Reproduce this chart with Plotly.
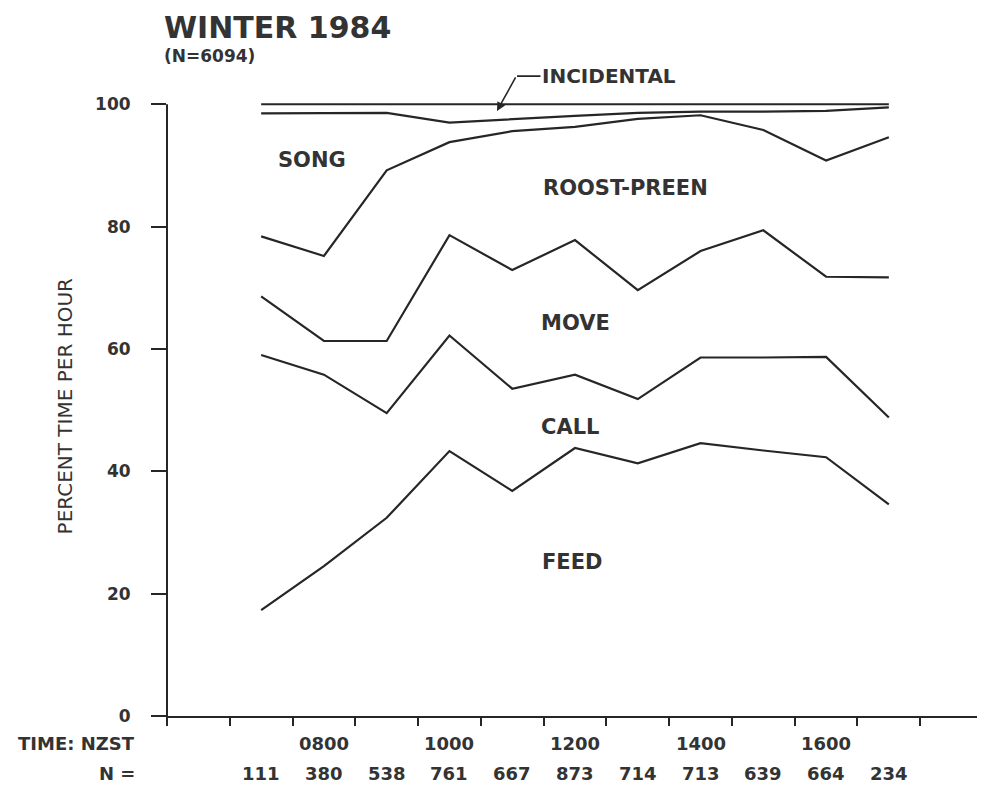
import plotly.graph_objects as go

# ---- data ----
hours = [7, 8, 9, 10, 11, 12, 13, 14, 15, 16, 17]          # hour blocks (0700 ... 1700)
n_counts = [111, 380, 538, 761, 667, 873, 714, 713, 639, 664, 234]

# cumulative boundaries (percent time per hour)
feed = [17.3, 24.5, 32.4, 43.3, 36.8, 43.8, 41.3, 44.6, 43.4, 42.3, 34.6]
call = [59.0, 55.8, 49.5, 62.2, 53.5, 55.8, 51.8, 58.6, 58.6, 58.7, 48.8]
move = [68.6, 61.3, 61.3, 78.6, 72.9, 77.8, 69.6, 76.0, 79.4, 71.8, 71.7]
roost_preen = [78.4, 75.2, 89.2, 93.8, 95.6, 96.3, 97.6, 98.2, 95.8, 90.8, 94.6]
song = [98.5, 98.6, 98.6, 97.0, 97.6, 98.1, 98.6, 98.8, 98.8, 98.9, 99.5]
incidental = [100, 100, 100, 100, 100, 100, 100, 100, 100, 100, 100]

hour_labels = ["0800", "1000", "1200", "1400", "1600"]
y_ticks = [0, 20, 40, 60, 80, 100]
x_ticks = list(range(6, 20))

band_labels = ["SONG", "ROOST-PREEN", "MOVE", "CALL", "FEED"]
band_label_x = [8.31, 13.31, 12.50, 12.42, 12.45]
band_label_y = [90.9, 86.3, 64.2, 47.2, 25.2]

# ---- figure ----
xpos = [h + 0.5 for h in hours]
LINE = "#262626"
TXT = "#333333"
FONT = "DejaVu Sans"
ymax = 102

fig = go.Figure()
for series in [feed, call, move, roost_preen, song, incidental]:
    fig.add_trace(go.Scatter(x=xpos, y=series, mode="lines",
                             line=dict(color=LINE, width=2.2),
                             showlegend=False, hoverinfo="skip"))

ann = []
# title
ann.append(dict(text="WINTER 1984", xref="paper", yref="paper", x=-0.006, y=1.1026,
                xanchor="left", yanchor="middle", showarrow=False,
                font=dict(family=FONT, size=30, color=TXT, weight="bold")))
ann.append(dict(text="(N=6094)", xref="paper", yref="paper", x=-0.006, y=1.058,
                xanchor="left", yanchor="middle", showarrow=False,
                font=dict(family=FONT, size=17, color=TXT, weight="bold")))
# band labels
for t, bx, by in zip(band_labels, band_label_x, band_label_y):
    ann.append(dict(text=t, x=bx, y=by, xref="x", yref="y", showarrow=False,
                    font=dict(family=FONT, size=21, color=TXT, weight="bold")))
# INCIDENTAL label with kinked leader
ann.append(dict(text="INCIDENTAL", x=11.576, y=104.6 / ymax, xref="x", yref="paper",
                ax=92, ay=0, showarrow=True, arrowhead=0, arrowwidth=1.6,
                arrowcolor=LINE, standoff=0,
                font=dict(family=FONT, size=20, color=TXT, weight="bold")))
ann.append(dict(text=" ", x=11.257, y=98.9, xref="x", yref="y",
                ax=20, ay=-36, showarrow=True, arrowhead=2, arrowsize=1.1,
                arrowwidth=1.6, arrowcolor=LINE,
                font=dict(family=FONT, size=2, color=TXT)))
# y title
ann.append(dict(text="PERCENT TIME PER HOUR", xref="paper", yref="y", x=-0.141, y=50.6,
                textangle=-90, showarrow=False,
                font=dict(family=FONT, size=20, color=TXT)))
# hour labels
for lab in hour_labels:
    ann.append(dict(text=lab, x=int(lab[:2]) + 0.5, y=0, xref="x", yref="paper",
                    yanchor="middle", yshift=-27, showarrow=False,
                    font=dict(family=FONT, size=18, color=TXT, weight="bold")))
ann.append(dict(text="TIME: NZST", x=-0.037, y=0, xref="paper", yref="paper",
                xanchor="right", yanchor="middle", yshift=-27, showarrow=False,
                font=dict(family=FONT, size=18, color=TXT, weight="bold")))
# N labels
for xp, n in zip(xpos, n_counts):
    ann.append(dict(text=str(n), x=xp, y=0, xref="x", yref="paper",
                    yanchor="middle", yshift=-57, showarrow=False,
                    font=dict(family=FONT, size=18, color=TXT, weight="bold")))
ann.append(dict(text="N =", x=-0.037, y=0, xref="paper", yref="paper",
                xanchor="right", yanchor="middle", yshift=-57, showarrow=False,
                font=dict(family=FONT, size=18, color=TXT, weight="bold")))

fig.update_layout(
    width=977, height=778,
    margin=dict(l=159, r=2, t=84, b=70),
    paper_bgcolor="white", plot_bgcolor="white",
    annotations=ann,
    shapes=[dict(type="line", xref="paper", yref="paper", x0=0, x1=0,
                 y0=-0.006, y1=100 / ymax, line=dict(color=LINE, width=2))],
    xaxis=dict(range=[6, 19], tickvals=x_ticks, ticktext=[""] * len(x_ticks),
               ticks="outside", ticklen=8, tickwidth=1.6, tickcolor=LINE,
               showline=True, linecolor=LINE, linewidth=2,
               showgrid=False, zeroline=False),
    yaxis=dict(range=[0, ymax], tickvals=y_ticks,
               ticks="outside", ticklen=15, tickwidth=1.6, tickcolor=LINE,
               ticklabelstandoff=17,
               tickfont=dict(family=FONT, size=17, color=TXT, weight="bold"),
               showline=False, showgrid=False, zeroline=False),
)

fig.write_html("out.html")
